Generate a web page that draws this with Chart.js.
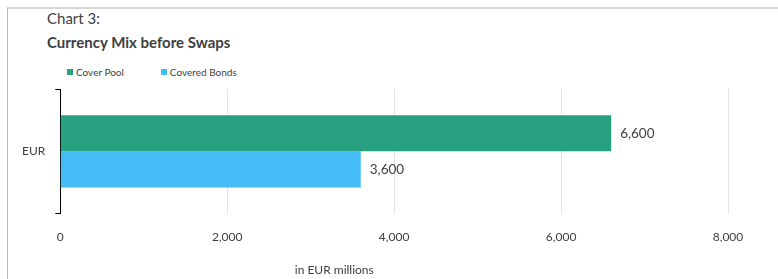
<!DOCTYPE html>
<html>
<head>
<meta charset="utf-8">
<script src="https://cdn.jsdelivr.net/npm/chart.js@4.4.1/dist/chart.umd.min.js"></script>
<style>
    html, body { margin: 0; padding: 0; background: #fff; }
    body { width: 778px; height: 279px; position: relative; overflow: hidden; font-family: Lato, "Noto Sans", sans-serif; color: #404040; }
    .frame { position: absolute; left: 7px; top: 7px; right: 0; bottom: 0; border-top: 2px solid #d6d6d6; border-left: 1px solid #b8b8b8; }
    .title { position: absolute; left: 47px; top: 9px; font-size: 15px; line-height: 18px; }
    .subtitle { position: absolute; left: 47px; top: 33px; font-size: 15px; line-height: 18px; font-weight: bold; }
    .legend { position: absolute; left: 67px; top: 65px; font-size: 10px; line-height: 14px; display: flex; }
    .legend span.item { display: flex; align-items: center; margin-right: 37px; }
    .legend span.box { width: 6px; height: 6px; margin-right: 3px; }
    #chartWrap { position: absolute; left: 0; top: 0; width: 778px; height: 279px; }
</style>
</head>
<body>
<div class="frame"></div>
<div class="title">Chart 3:</div>
<div class="subtitle">Currency Mix before Swaps</div>
<div class="legend" id="legend"></div>
<div id="chartWrap"><canvas id="currencyChart"></canvas></div>

<script>
    const categories = ['EUR'];
    const coverPool = [6600];
    const coveredBonds = [3600];
    const xTicks = [0, 2000, 4000, 6000, 8000];
    const axisTitle = 'in EUR millions';

    const FONT = 'Lato, "Noto Sans", sans-serif';
    Chart.defaults.font.family = FONT;
    Chart.defaults.color = '#404040';

    // value labels at the end of each bar
    const valueLabels = {
        id: 'valueLabels',
        afterDatasetsDraw(chart) {
            const ctx = chart.ctx;
            ctx.save();
            ctx.font = '13.5px ' + FONT;
            ctx.fillStyle = '#404040';
            ctx.textBaseline = 'middle';
            ctx.textAlign = 'left';
            chart.data.datasets.forEach((ds, i) => {
                chart.getDatasetMeta(i).data.forEach((bar, j) => {
                    ctx.fillText(ds.data[j].toLocaleString('en-US'), bar.x + 9, bar.y);
                });
            });
            ctx.restore();
        }
    };

    // unit note under the axis
    const unitNote = {
        id: 'unitNote',
        afterDraw(chart) {
            const ctx = chart.ctx;
            const area = chart.chartArea;
            ctx.save();
            ctx.font = '12px ' + FONT;
            ctx.fillStyle = '#404040';
            ctx.textAlign = 'center';
            ctx.textBaseline = 'middle';
            ctx.fillText(axisTitle, area.left + 274, area.bottom + 57);
            ctx.restore();
        }
    };

    const chart = new Chart(document.getElementById('currencyChart'), {
        type: 'bar',
        data: {
            labels: categories,
            datasets: [{
                label: 'Cover Pool',
                data: coverPool,
                backgroundColor: '#28a180',
                categoryPercentage: 0.58,
                barPercentage: 1
            }, {
                label: 'Covered Bonds',
                data: coveredBonds,
                backgroundColor: '#45bcf5',
                categoryPercentage: 0.58,
                barPercentage: 1
            }]
        },
        options: {
            indexAxis: 'y',
            responsive: true,
            maintainAspectRatio: false,
            animation: false,
            layout: {
                padding: { left: 12, right: 50, top: 89, bottom: 19 }
            },
            plugins: {
                legend: { display: false },
                tooltip: { enabled: false }
            },
            scales: {
                x: {
                    min: 0,
                    max: 8000,
                    afterBuildTicks: axis => { axis.ticks = xTicks.map(v => ({ value: v })); },
                    grid: {
                        color: '#e4e4e4',
                        drawTicks: false
                    },
                    border: { display: false },
                    ticks: {
                        padding: 16,
                        font: { size: 12 },
                        callback: v => v.toLocaleString('en-US')
                    }
                },
                y: {
                    grid: {
                        drawOnChartArea: false,
                        color: '#000',
                        tickLength: 5
                    },
                    border: { color: '#000', width: 1 },
                    ticks: {
                        padding: 10,
                        font: { size: 12 }
                    }
                }
            }
        },
        plugins: [valueLabels, unitNote]
    });

    // legend built from the chart datasets
    const legendEl = document.getElementById('legend');
    chart.data.datasets.forEach(ds => {
        const item = document.createElement('span');
        item.className = 'item';
        const box = document.createElement('span');
        box.className = 'box';
        box.style.background = ds.backgroundColor;
        item.appendChild(box);
        item.appendChild(document.createTextNode(ds.label));
        legendEl.appendChild(item);
    });
</script>
</body>
</html>
